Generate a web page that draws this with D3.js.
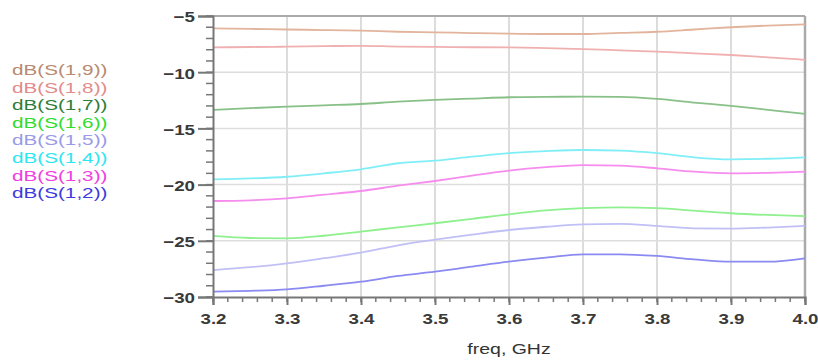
<!DOCTYPE html>
<html><head><meta charset="utf-8">
<script src="https://cdn.jsdelivr.net/npm/d3@7"></script>
<style>body{margin:0;background:#fff}svg{display:block;font-family:Arial,"Liberation Sans",sans-serif}</style>
</head><body>
<svg id="c" width="818" height="362"></svg>
<script>
const freq = [3.2,3.25,3.3,3.35,3.4,3.45,3.5,3.55,3.6,3.65,3.7,3.75,3.8,3.85,3.9,3.95,4.0];
const seriesNames = ["dB(S(1,9))","dB(S(1,8))","dB(S(1,7))","dB(S(1,6))","dB(S(1,5))","dB(S(1,4))","dB(S(1,3))","dB(S(1,2))"];
const s19 = [-6.1,-6.15,-6.2,-6.25,-6.3,-6.4,-6.45,-6.52,-6.57,-6.6,-6.6,-6.5,-6.4,-6.2,-6.0,-5.85,-5.74];
const s18 = [-7.8,-7.76,-7.73,-7.68,-7.65,-7.72,-7.75,-7.78,-7.8,-7.86,-7.94,-8.05,-8.17,-8.32,-8.47,-8.68,-8.9];
const s17 = [-13.36,-13.2,-13.07,-12.95,-12.83,-12.62,-12.47,-12.35,-12.23,-12.19,-12.18,-12.2,-12.38,-12.7,-13.0,-13.35,-13.7];
const s16 = [-24.57,-24.75,-24.78,-24.55,-24.19,-23.8,-23.44,-23.05,-22.64,-22.3,-22.1,-22.02,-22.1,-22.32,-22.55,-22.7,-22.8];
const s15 = [-27.6,-27.35,-27.0,-26.55,-26.06,-25.4,-24.9,-24.45,-24.04,-23.75,-23.53,-23.5,-23.68,-23.89,-23.92,-23.82,-23.68];
const s14 = [-19.53,-19.45,-19.3,-19.0,-18.64,-18.1,-17.87,-17.52,-17.2,-17.02,-16.92,-16.98,-17.2,-17.57,-17.75,-17.7,-17.57];
const s13 = [-21.46,-21.4,-21.22,-20.9,-20.57,-20.1,-19.68,-19.2,-18.76,-18.45,-18.26,-18.32,-18.55,-18.85,-19.0,-18.95,-18.85];
const s12 = [-29.53,-29.45,-29.32,-29.0,-28.64,-28.13,-27.75,-27.3,-26.86,-26.5,-26.2,-26.2,-26.35,-26.65,-26.86,-26.86,-26.56];
const xTicks = [3.2,3.3,3.4,3.5,3.6,3.7,3.8,3.9,4.0];
const yTicks = [-5,-10,-15,-20,-25,-30];

const seriesValues = [s19,s18,s17,s16,s15,s14,s13,s12];
const lineColors = ["#e2b49c","#f0b0b0","#88c088","#8ef08e","#c0c0f6","#80eef6","#f68cee","#8a8af2"];
const textColors = ["#b88a72","#e28c8c","#2e7d3a","#30dc30","#9a9aea","#2ee6f0","#f040e0","#3c3ce0"];

const svg = d3.select("#c");
const x = d3.scaleLinear().domain([3.2,4.0]).range([213,805]);
const y = d3.scaleLinear().domain([-30,-5]).range([297,16]);
const SX = 1.25;

// grid
const g = svg.append("g");
g.selectAll(".vg").data(xTicks.slice(1,-1)).join("line")
  .attr("x1",d=>x(d)).attr("x2",d=>x(d)).attr("y1",y(-5)).attr("y2",y(-30))
  .attr("stroke","#dcdcdc").attr("stroke-width",2);
g.selectAll(".hg").data(yTicks.slice(1,-1)).join("line")
  .attr("x1",x(3.2)).attr("x2",x(4.0)).attr("y1",d=>y(d)).attr("y2",d=>y(d))
  .attr("stroke","#dddddd").attr("stroke-width",1.5);
g.append("line").attr("x1",x(3.2)).attr("x2",x(4.0)).attr("y1",y(-5)).attr("y2",y(-5)).attr("stroke","#aaaaaa").attr("stroke-width",2);
g.append("line").attr("x1",x(4.0)).attr("x2",x(4.0)).attr("y1",y(-5)).attr("y2",y(-30)).attr("stroke","#aaaaaa").attr("stroke-width",2.5);

// lines
const line = d3.line().x((d,i)=>x(freq[i])).y(d=>y(d)).curve(d3.curveMonotoneX);
seriesValues.forEach((vals,k)=>{
  svg.append("path").datum(vals).attr("d",line).attr("fill","none")
    .attr("stroke",lineColors[k]).attr("stroke-width",1.8);
});

// minor ticks
const minorY = d3.range(-30,-4,1);
const minorX = d3.range(0,41).map(i=>3.2+i*0.02);
svg.append("g").selectAll("line").data(minorY).join("line")
  .attr("x1",x(3.2)-7).attr("x2",x(3.2)).attr("y1",d=>y(d)).attr("y2",d=>y(d))
  .attr("stroke","#777").attr("stroke-width",1.5);
svg.append("g").selectAll("line").data(minorX).join("line")
  .attr("x1",d=>x(d)).attr("x2",d=>x(d)).attr("y1",y(-30)).attr("y2",y(-30)+5)
  .attr("stroke","#777").attr("stroke-width",1.5);

// axes
const yAxis = d3.axisLeft(y).tickValues(yTicks).tickSize(15).tickFormat(d3.format("d"));
const ya = svg.append("g").attr("transform",`translate(${x(3.2)},0)`).call(yAxis);
const xAxis = d3.axisBottom(x).tickValues(xTicks).tickSize(8).tickFormat(d3.format(".1f"));
const xa = svg.append("g").attr("transform",`translate(0,${y(-30)})`).call(xAxis);
[ya,xa].forEach(a=>{
  a.select(".domain").attr("stroke","#777").attr("stroke-width",2);
  a.selectAll(".tick line").attr("stroke","#777").attr("stroke-width",2);
  a.selectAll("text").attr("fill","#3a3a3a").attr("font-size",15).attr("font-weight","bold")
   .attr("font-family","Arial, 'Liberation Sans', sans-serif");
});
ya.selectAll("text").attr("x",0).attr("transform",`translate(-18,1) scale(${SX},1)`);
xa.selectAll("text").attr("y",0).attr("dy",null).attr("transform",`translate(0,27) scale(${SX},1)`);

// axis title
svg.append("text").attr("transform",`translate(${(x(3.2)+x(4.0))/2},354) scale(1.3,1)`)
  .attr("text-anchor","middle").attr("font-size",15).attr("fill","#333").text("freq, GHz");

// legend
seriesNames.forEach((n,k)=>{
  svg.append("text").attr("transform",`translate(12,${75+k*17.6}) scale(1.38,1)`)
    .attr("font-size",15).attr("fill",textColors[k]).text(n);
});
</script>
</body></html>
